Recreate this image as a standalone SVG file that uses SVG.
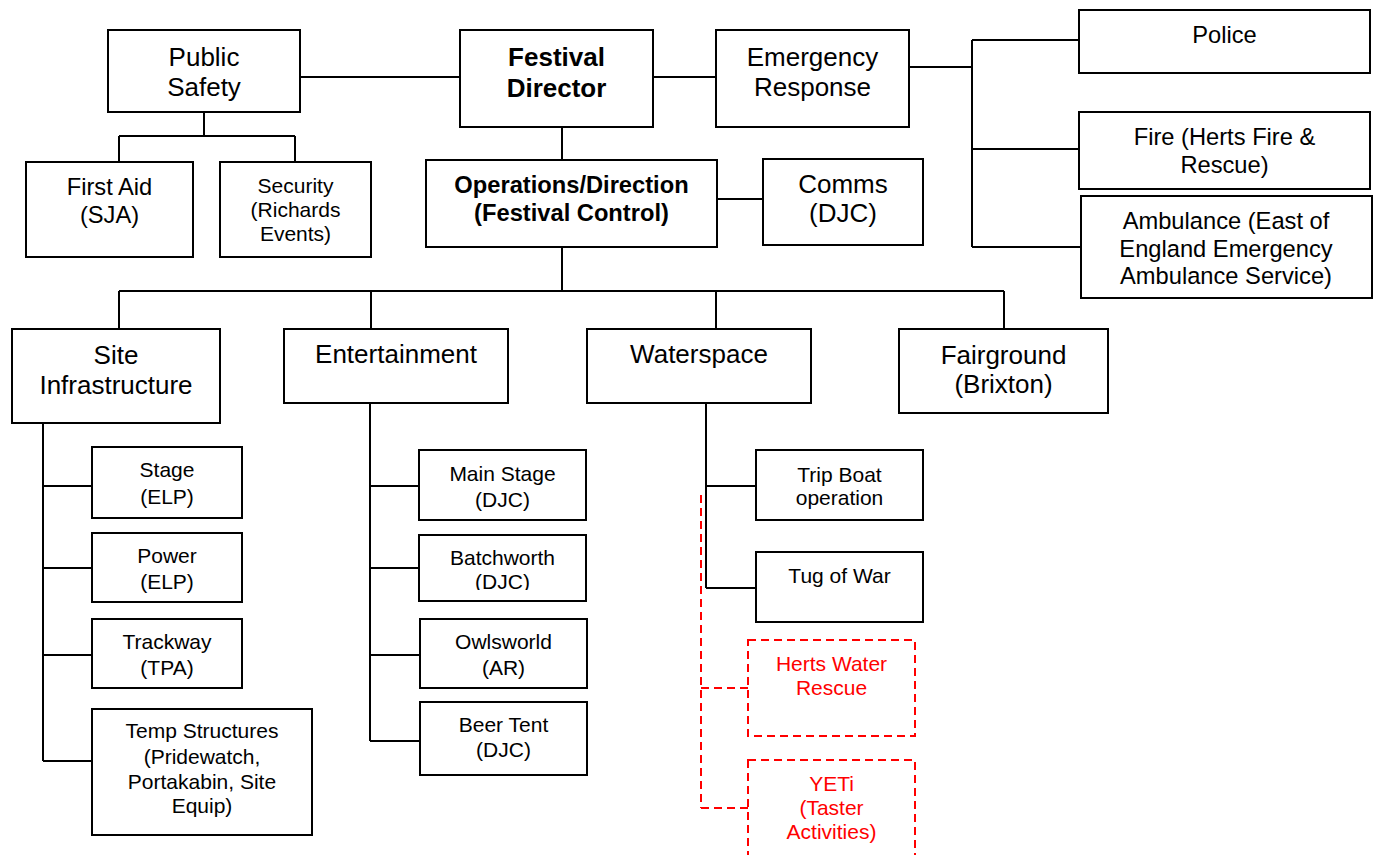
<svg xmlns="http://www.w3.org/2000/svg" width="1375" height="855" viewBox="0 0 1375 855">
<style>
rect.box{fill:#fff;stroke:#000;stroke-width:2}
rect.red{fill:#fff;stroke:#ff0000;stroke-width:2;stroke-dasharray:8 5}
.ln{fill:none;stroke:#000;stroke-width:2}
.rl{fill:none;stroke:#ff0000;stroke-width:2;stroke-dasharray:8 5}
text{font-family:"Liberation Sans",Arial,sans-serif;text-anchor:middle;fill:#000}
.l{font-size:26px}
.m{font-size:23.7px}
.s{font-size:21px}
.b{font-weight:bold}
.r{fill:#ff0000}
</style>
<defs>
<clipPath id="clipBatch"><rect x="419" y="535" width="167" height="55"/></clipPath>
</defs>
<rect width="1375" height="855" fill="#fff"/>
<g id="connectors">
<path class="ln" d="M300,77 H460 M653,77 H716"/>
<path class="ln" d="M909,67 H972 M972,40 V247 M972,40 H1079 M972,149 H1079 M972,247 H1081"/>
<path class="ln" d="M204,112 V136 M119,136 H295 M119,136 V162 M295,136 V162"/>
<path class="ln" d="M562,127 V160 M717,199 H763"/>
<path class="ln" d="M562,247 V291 M119,291 H1004 M119,291 V329 M371,291 V329 M716,291 V329 M1004,291 V329"/>
<path class="ln" d="M43,423 V761 M43,486 H92 M43,568 H92 M43,655 H92 M43,761 H92"/>
<path class="ln" d="M370,403 V741 M370,486 H419 M370,568 H419 M370,655 H420 M370,741 H420"/>
<path class="ln" d="M706,403 V588 M706,486 H756 M706,588 H756"/>
<path class="rl" d="M701,495 V808 M701,688 H748 M701,808 H748"/>
</g>
<g id="public-safety"><rect class="box" x="108" y="30" width="192" height="82"/><text class="l" x="204" y="66">Public</text><text class="l" x="204" y="96">Safety</text></g>
<g id="festival-director"><rect class="box" x="460" y="30" width="193" height="97"/><text class="l b" x="556.5" y="66">Festival</text><text class="l b" x="556.5" y="97">Director</text></g>
<g id="emergency-response"><rect class="box" x="716" y="30" width="193" height="97"/><text class="l" x="812.5" y="66">Emergency</text><text class="l" x="812.5" y="96">Response</text></g>
<g id="police"><rect class="box" x="1079" y="10" width="291" height="63"/><text class="m" x="1224.5" y="43">Police</text></g>
<g id="fire"><rect class="box" x="1079" y="112" width="291" height="77"/><text class="m" x="1224.5" y="145">Fire (Herts Fire &amp;</text><text class="m" x="1224.5" y="173">Rescue)</text></g>
<g id="ambulance"><rect class="box" x="1081" y="196" width="291" height="102"/><text class="m" x="1226" y="229">Ambulance (East of</text><text class="m" x="1226" y="257">England Emergency</text><text class="m" x="1226" y="284">Ambulance Service)</text></g>
<g id="first-aid"><rect class="box" x="26" y="162" width="167" height="95"/><text class="m" x="109.5" y="195">First Aid</text><text class="m" x="109.5" y="223">(SJA)</text></g>
<g id="security"><rect class="box" x="220" y="162" width="151" height="95"/><text class="s" x="295.5" y="193">Security</text><text class="s" x="295.5" y="217">(Richards</text><text class="s" x="295.5" y="241">Events)</text></g>
<g id="operations"><rect class="box" x="426" y="160" width="291" height="87"/><text class="m b" x="571.5" y="193">Operations/Direction</text><text class="m b" x="571.5" y="221">(Festival Control)</text></g>
<g id="comms"><rect class="box" x="763" y="159" width="160" height="86"/><text class="l" x="843" y="193">Comms</text><text class="l" x="843" y="222">(DJC)</text></g>
<g id="site-infrastructure"><rect class="box" x="12" y="329" width="208" height="94"/><text class="l" x="116" y="364">Site</text><text class="l" x="116" y="394">Infrastructure</text></g>
<g id="entertainment"><rect class="box" x="284" y="329" width="224" height="74"/><text class="l" x="396" y="363">Entertainment</text></g>
<g id="waterspace"><rect class="box" x="587" y="329" width="224" height="74"/><text class="l" x="699" y="363">Waterspace</text></g>
<g id="fairground"><rect class="box" x="899" y="329" width="209" height="84"/><text class="l" x="1003.5" y="364">Fairground</text><text class="l" x="1003.5" y="393">(Brixton)</text></g>
<g id="stage"><rect class="box" x="92" y="447" width="150" height="71"/><text class="s" x="167" y="477">Stage</text><text class="s" x="167" y="504">(ELP)</text></g>
<g id="power"><rect class="box" x="92" y="533" width="150" height="69"/><text class="s" x="167" y="563">Power</text><text class="s" x="167" y="589">(ELP)</text></g>
<g id="trackway"><rect class="box" x="92" y="619" width="150" height="69"/><text class="s" x="167" y="649">Trackway</text><text class="s" x="167" y="675">(TPA)</text></g>
<g id="temp-structures"><rect class="box" x="92" y="709" width="220" height="126"/><text class="s" x="202" y="738">Temp Structures</text><text class="s" x="202" y="764">(Pridewatch,</text><text class="s" x="202" y="789">Portakabin, Site</text><text class="s" x="202" y="813">Equip)</text></g>
<g id="main-stage"><rect class="box" x="419" y="450" width="167" height="70"/><text class="s" x="502.5" y="481">Main Stage</text><text class="s" x="502.5" y="507">(DJC)</text></g>
<g id="batchworth"><rect class="box" x="419" y="535" width="167" height="66"/><text class="s" x="502.5" y="565">Batchworth</text><text class="s" x="502.5" y="589" clip-path="url(#clipBatch)">(DJC)</text></g>
<g id="owlsworld"><rect class="box" x="420" y="619" width="167" height="69"/><text class="s" x="503.5" y="649">Owlsworld</text><text class="s" x="503.5" y="675">(AR)</text></g>
<g id="beer-tent"><rect class="box" x="420" y="702" width="167" height="73"/><text class="s" x="503.5" y="732">Beer Tent</text><text class="s" x="503.5" y="757">(DJC)</text></g>
<g id="trip-boat"><rect class="box" x="756" y="450" width="167" height="70"/><text class="s" x="839.5" y="482">Trip Boat</text><text class="s" x="839.5" y="505">operation</text></g>
<g id="tug-of-war"><rect class="box" x="756" y="552" width="167" height="70"/><text class="s" x="839.5" y="583">Tug of War</text></g>
<g id="herts-water-rescue"><rect class="red" x="748" y="640" width="167" height="96"/><text class="s r" x="831.5" y="671">Herts Water</text><text class="s r" x="831.5" y="695">Rescue</text></g>
<g id="yeti"><rect class="red" x="748" y="760" width="167" height="110"/><text class="s r" x="831.5" y="791">YETi</text><text class="s r" x="831.5" y="815">(Taster</text><text class="s r" x="831.5" y="839">Activities)</text></g>
</svg>
